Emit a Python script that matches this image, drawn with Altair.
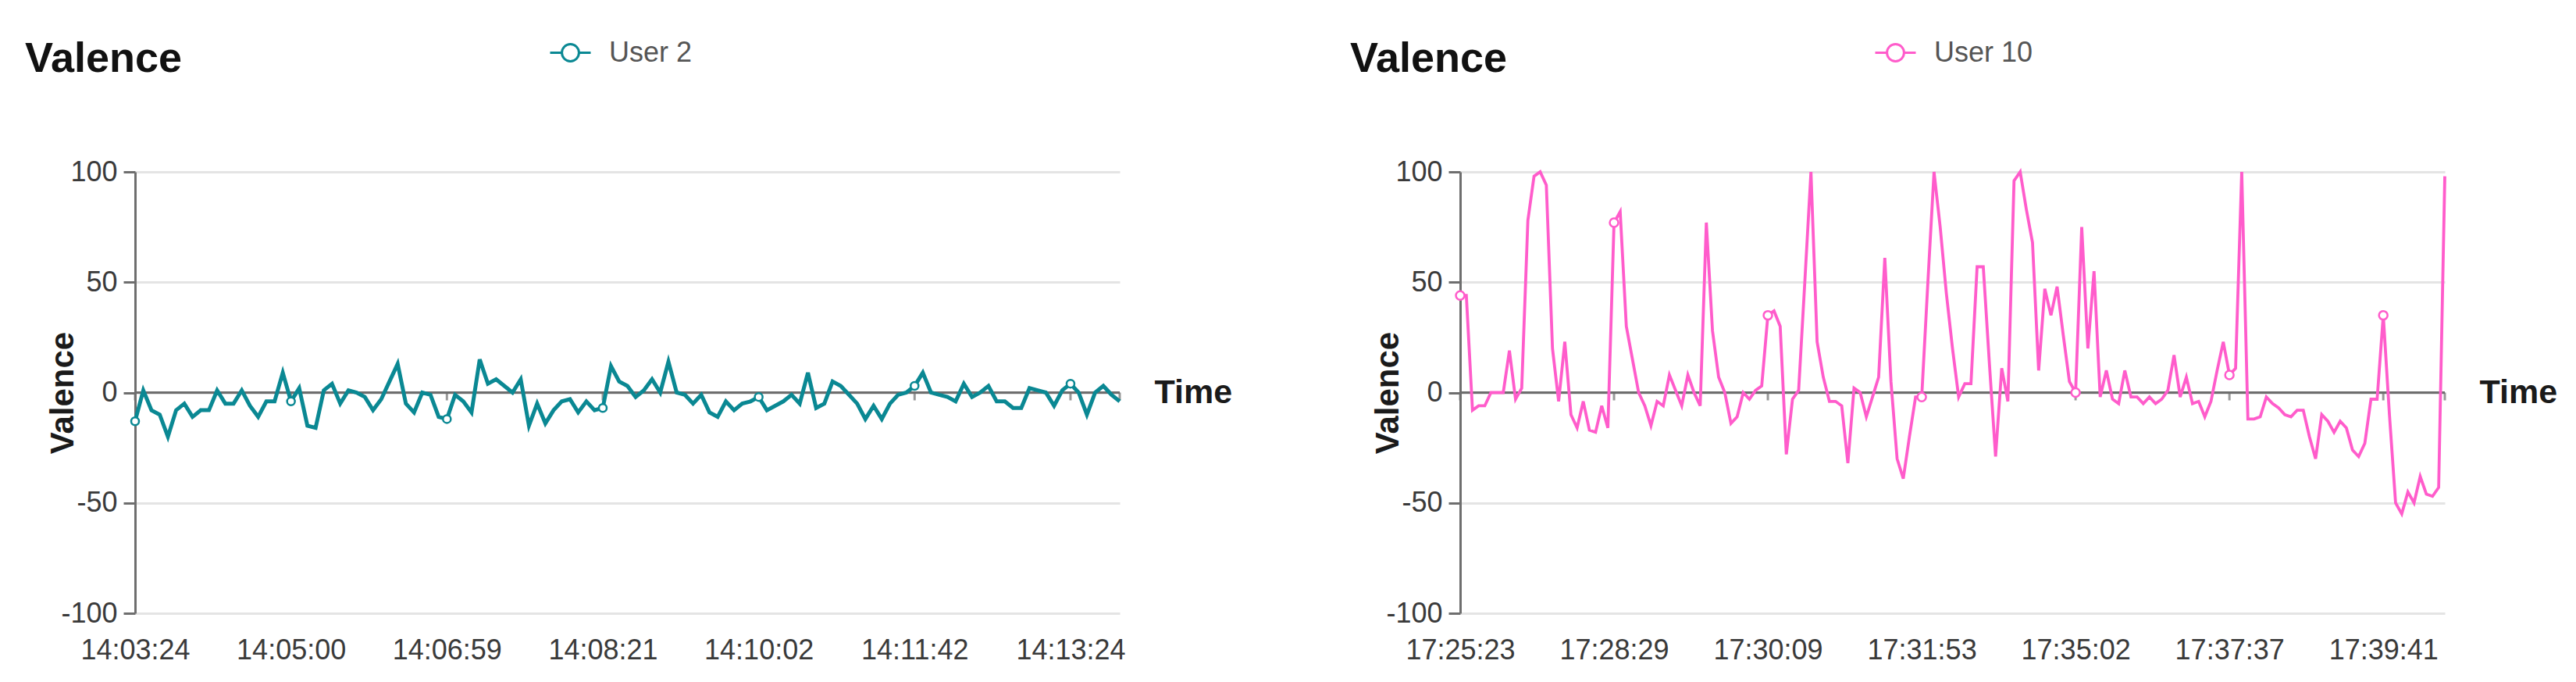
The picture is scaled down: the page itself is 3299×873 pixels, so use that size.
import altair as alt
import pandas as pd

# ---------------- data ----------------
LEFT_NAME = "User 2"
LEFT_VALUES = [
    -13, 1, -8, -10, -20, -8, -5, -11, -8, -8,
    1, -5, -5, 1, -6, -11, -4, -4, 9, -4,
    2, -15, -16, 1, 4, -5, 1, 0, -2, -8,
    -3, 5, 13, -5, -9, 0, -1, -11, -12, -1,
    -4, -9, 15, 4, 6, 3, 0, 6, -15, -5,
    -14, -8, -4, -3, -9, -4, -8, -7, 12, 5,
    3, -2, 1, 6, 0, 14, 0, -1, -5, -1,
    -9, -11, -4, -8, -5, -4, -2, -8, -6, -4,
    -1, -5, 9, -7, -5, 5, 3, -1, -5, -12,
    -6, -12, -5, -1, 0, 3, 9, 0, -1, -2,
    -4, 4, -2, 0, 3, -4, -4, -7, -7, 2,
    1, 0, -6, 1, 4, 0, -10, 0, 3, -1,
    -4,
]
LEFT_TICK_INDEX = [0, 19, 38, 57, 76, 95, 114]
LEFT_TICK_LABELS = ["14:03:24", "14:05:00", "14:06:59", "14:08:21",
                    "14:10:02", "14:11:42", "14:13:24"]

RIGHT_NAME = "User 10"
RIGHT_VALUES = [
    44, 44, -8, -6, -6, 0, 0, 0, 19, -3,
    2, 78, 98, 100, 94, 20, -4, 23, -10, -16,
    -4, -17, -18, -6, -16, 77, 82, 30, 15, 0,
    -6, -15, -4, -6, 8, 1, -6, 8, 0, -6,
    77, 28, 7, 0, -14, -11, 0, -3, 1, 3,
    35, 37, 30, -28, -3, 1, 50, 100, 23, 7,
    -4, -4, -6, -32, 2, 0, -11, -2, 7, 61,
    5, -30, -39, -20, -2, -2, 50, 100, 75, 45,
    20, -2, 4, 4, 57, 57, 13, -29, 11, -4,
    96, 100, 83, 68, 10, 47, 35, 48, 26, 5,
    0, 75, 20, 55, -2, 10, -3, -5, 10, -2,
    -2, -5, -2, -5, -3, 1, 17, -2, 7, -5,
    -4, -11, -4, 10, 23, 8, 11, 100, -12, -12,
    -11, -2, -5, -7, -10, -11, -8, -8, -20, -30,
    -10, -13, -18, -13, -16, -26, -29, -23, -3, -3,
    35, -10, -50, -55, -45, -50, -38, -46, -47, -43,
    98,
]
RIGHT_TICK_INDEX = [0, 25, 50, 75, 100, 125, 150]
RIGHT_TICK_LABELS = ["17:25:23", "17:28:29", "17:30:09", "17:31:53",
                     "17:35:02", "17:37:37", "17:39:41"]

Y_TICKS = [-100, -50, 0, 50, 100]

# ---------------- style ----------------
FONT = "Liberation Sans"
W, H = 1261, 565
AXIS_GREY = "#6e6e6e"
GRID_GREY = "#e4e4e4"
LEGEND_PATH = ("M-1,0H-0.42M0.42,0H1M0.42,0A0.42,0.42,0,1,1,-0.42,0"
               "A0.42,0.42,0,1,1,0.42,0Z")
LEGEND_Y = -180


def label_expr(idx, labels):
    expr = "''"
    for i, lab in reversed(list(zip(idx, labels))):
        expr = f"datum.value == {i} ? '{lab}' : ({expr})"
    return expr


def panel(values, name, tick_idx, tick_labels, color, line_w, pt_size):
    n = len(values)
    df = pd.DataFrame({"i": list(range(n)), "v": values, "user": [name] * n})
    pts = df.iloc[tick_idx]
    zero_df = pd.DataFrame({"v": [0]})
    ticks_df = pd.DataFrame({"i": tick_idx + [n - 1], "v": [0] * (len(tick_idx) + 1)})

    x = alt.X(
        "i:Q",
        scale=alt.Scale(domain=[0, n - 1], nice=False, zero=False),
        axis=alt.Axis(
            values=tick_idx, labelExpr=label_expr(tick_idx, tick_labels),
            domain=False, ticks=False, tickSize=0, grid=False,
            labelFlush=False, labelOverlap=False, labelBound=False,
            labelFontSize=36, labelColor="#3a3a3a", labelPadding=30,
            title="Time", titleX=W + 44, titleY=-H / 2,
            titleAlign="left", titleBaseline="middle",
            titleFontSize=43, titleFontWeight="bold", titleColor="#1a1a1a",
        ),
    )
    y = alt.Y(
        "v:Q",
        scale=alt.Scale(domain=[-100, 100], nice=False),
        axis=alt.Axis(
            values=Y_TICKS, labelExpr="toString(datum.value)",
            grid=True, gridColor=GRID_GREY, gridWidth=3,
            domainColor=AXIS_GREY, domainWidth=3,
            tickColor=AXIS_GREY, tickWidth=3, tickSize=15,
            labelFontSize=36, labelColor="#3a3a3a", labelPadding=8,
            title="Valence", titleX=-93, titleY=H / 2,
            titleAlign="center", titleBaseline="middle", titleAngle=270,
            titleFontSize=42, titleFontWeight="bold", titleColor="#1a1a1a",
        ),
    )

    zero = alt.Chart(zero_df).mark_rule(color=AXIS_GREY, strokeWidth=3).encode(
        y=alt.Y("v:Q", scale=alt.Scale(domain=[-100, 100], nice=False))
    )
    ticks = alt.Chart(ticks_df).mark_tick(
        orient="vertical", size=10, thickness=3, color=AXIS_GREY, yOffset=5
    ).encode(x=x, y=alt.Y("v:Q"))
    line = alt.Chart(df).mark_line(strokeWidth=line_w).encode(
        x=x, y=y,
        color=alt.Color(
            "user:N",
            scale=alt.Scale(domain=[name], range=[color]),
            legend=alt.Legend(
                title=None, orient="none", legendX=530, legendY=LEGEND_Y,
                symbolType=LEGEND_PATH, symbolSize=2704, symbolStrokeWidth=3,
                symbolFillColor="white", labelFontSize=36, labelColor="#555555",
                labelFont=FONT, labelOffset=22, padding=0,
            ),
        ),
    )
    points = alt.Chart(pts).mark_point(
        shape="circle", filled=False, fill="white", fillOpacity=1,
        stroke=color, strokeWidth=2.5, size=pt_size, opacity=1,
    ).encode(x=x, y=y)

    return alt.layer(zero, ticks, line, points).properties(
        width=W, height=H,
        title=alt.Title("Valence", anchor="start", frame="group", dx=-141,
                        dy=63, fontSize=54, fontWeight="bold", color="#111111",
                        font=FONT, offset=0),
    )


left = panel(LEFT_VALUES, LEFT_NAME, LEFT_TICK_INDEX, LEFT_TICK_LABELS,
             "#0a8893", 5, 100)
right = panel(RIGHT_VALUES, RIGHT_NAME, RIGHT_TICK_INDEX, RIGHT_TICK_LABELS,
              "#ff5ccb", 3.8, 120)

chart = alt.hconcat(left, right, spacing=436, bounds="flush").resolve_scale(
    color="independent"
).resolve_legend(color="independent").configure(
    font=FONT,
    padding={"left": 24, "top": 32, "right": 5, "bottom": 5},
).configure_view(stroke=None).configure_axis(labelFont=FONT, titleFont=FONT)

chart.save("out.html", embed_options={"renderer": "svg", "actions": False})
